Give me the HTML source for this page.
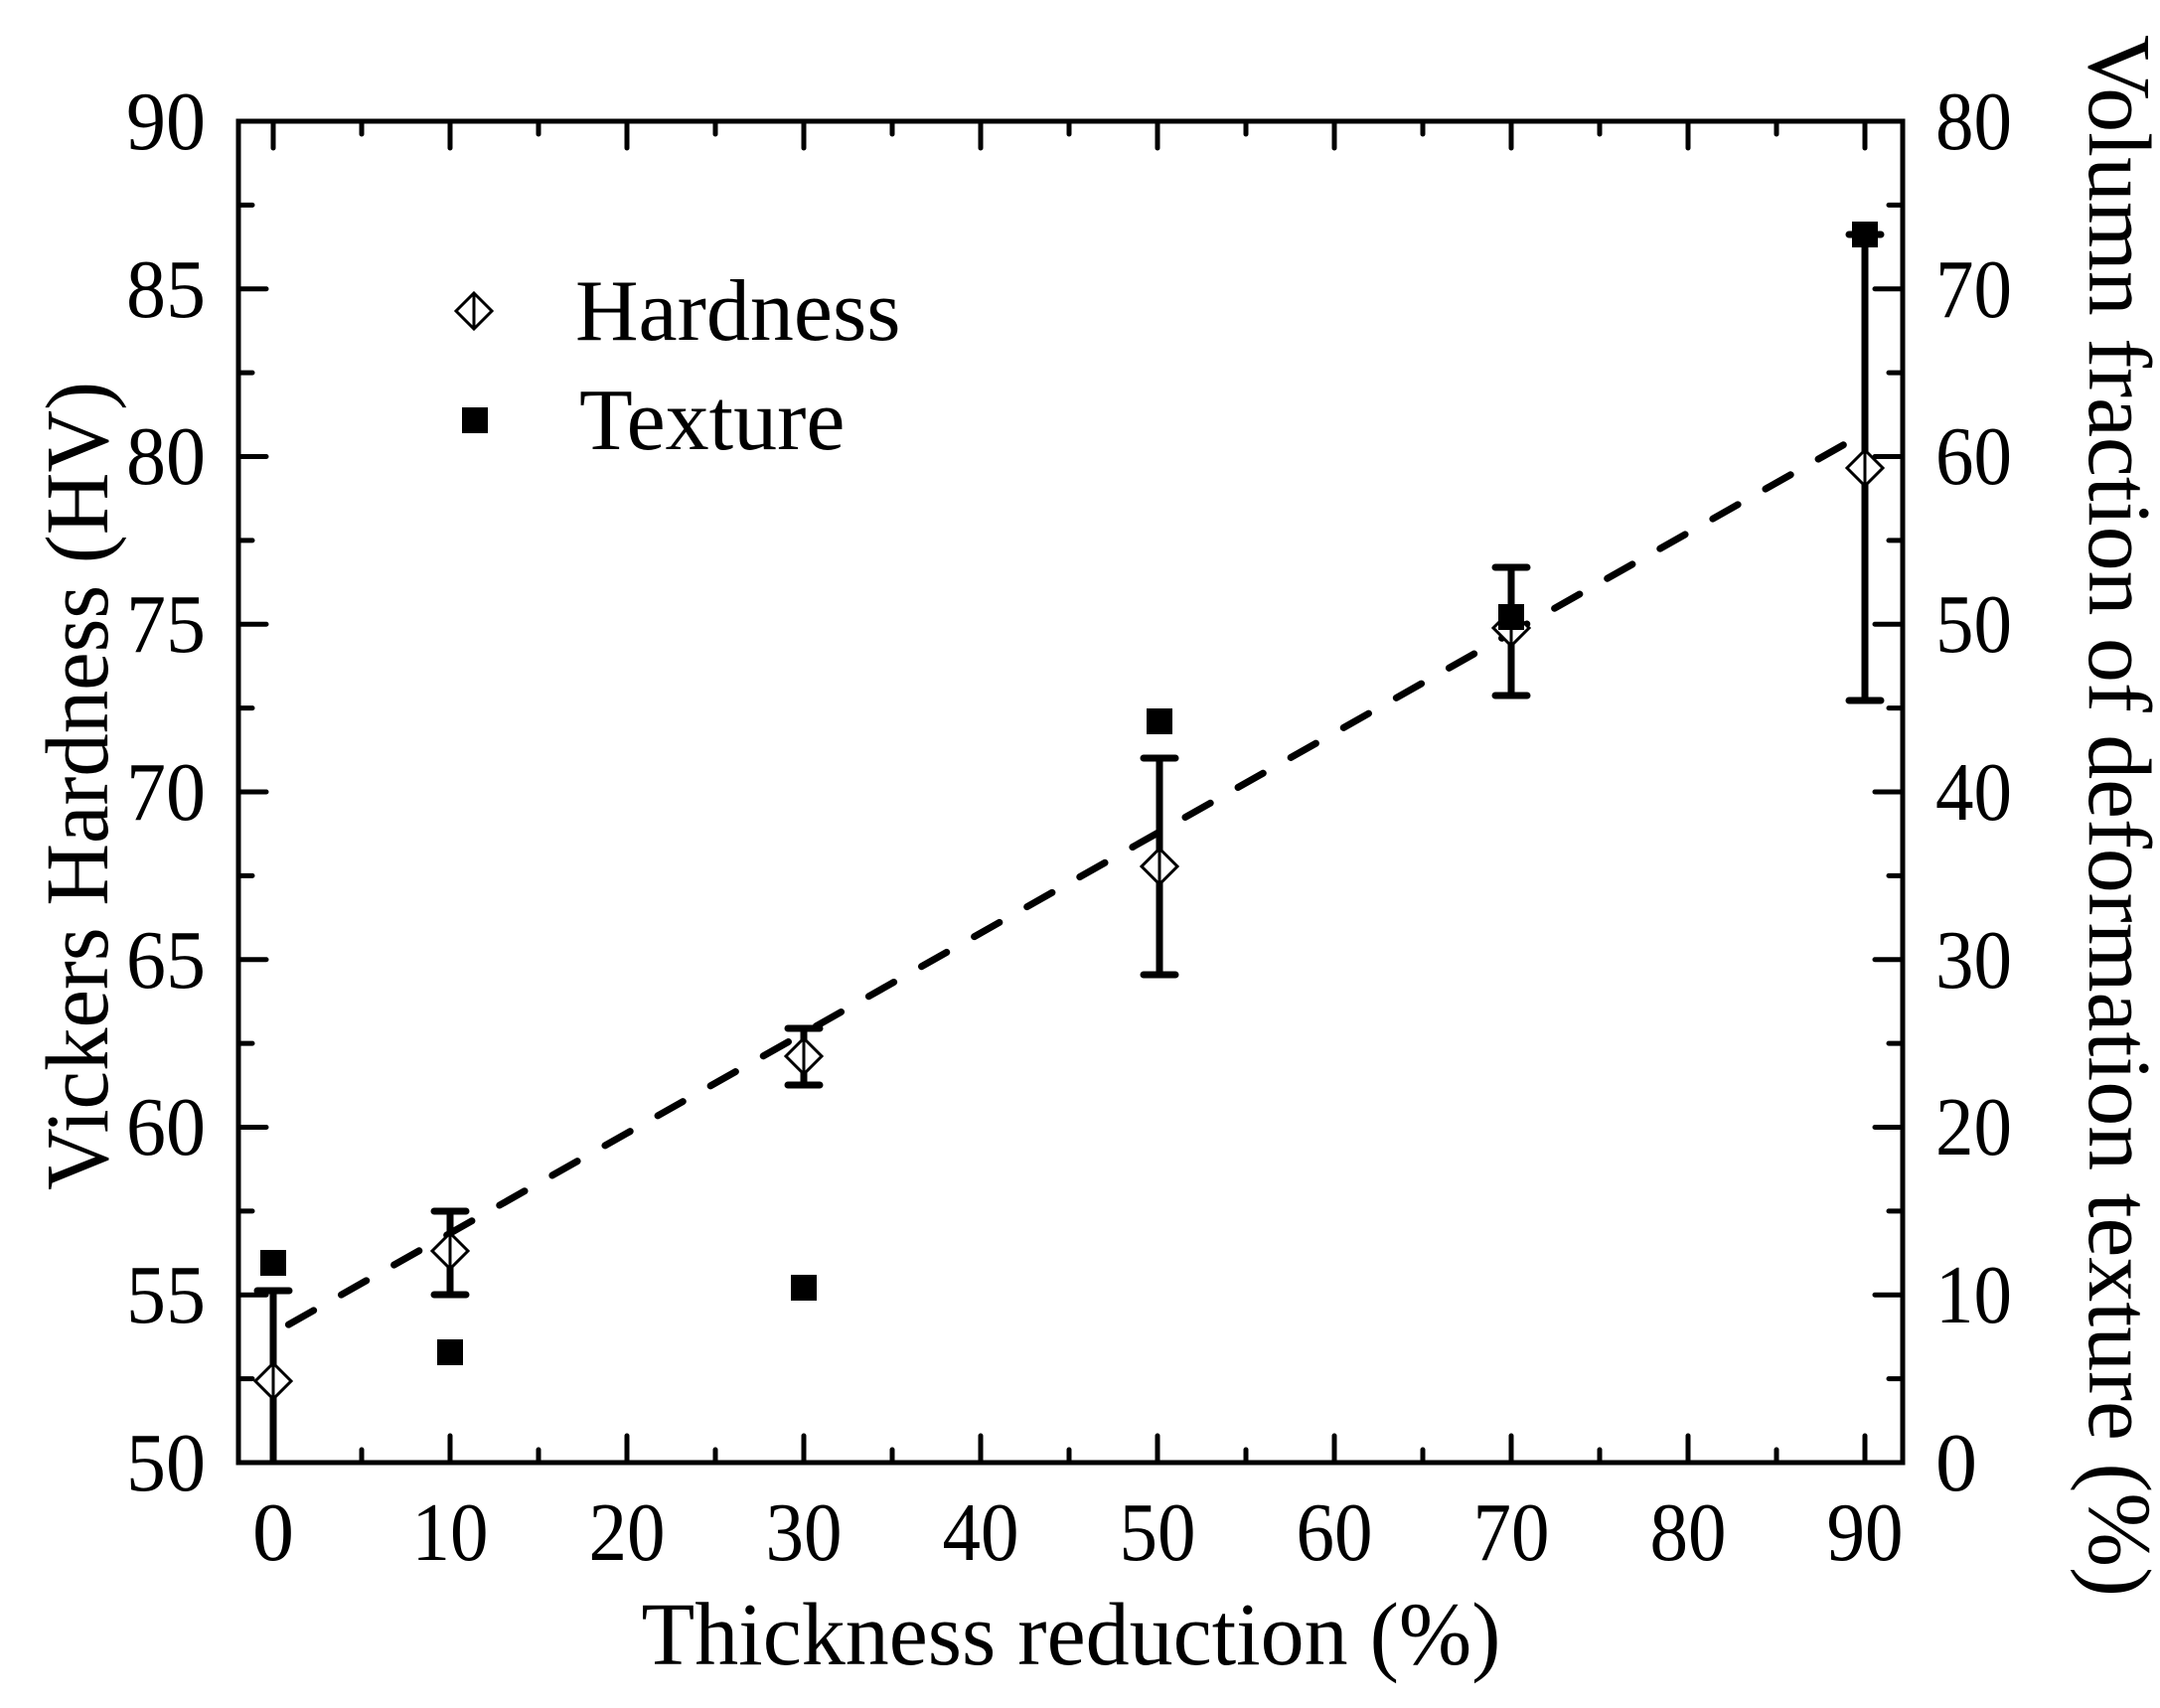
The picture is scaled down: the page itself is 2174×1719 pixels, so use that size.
<!DOCTYPE html>
<html><head><meta charset="utf-8"><style>html,body{margin:0;padding:0;background:#fff}svg{display:block}</style></head>
<body>
<svg width="2174" height="1719" viewBox="0 0 2174 1719" xmlns="http://www.w3.org/2000/svg" font-family="'Liberation Serif', serif" fill="#000">
<g stroke="#000" stroke-width="5" stroke-linecap="round">
<path d="M275 1472v-27M453 1472v-27M631 1472v-27M809 1472v-27M987 1472v-27M1165 1472v-27M1343 1472v-27M1521 1472v-27M1699 1472v-27M1877 1472v-27"/>
<path d="M364 1472v-13M542 1472v-13M720 1472v-13M898 1472v-13M1076 1472v-13M1254 1472v-13M1432 1472v-13M1610 1472v-13M1788 1472v-13"/>
<path d="M275 122v27M453 122v27M631 122v27M809 122v27M987 122v27M1165 122v27M1343 122v27M1521 122v27M1699 122v27M1877 122v27"/>
<path d="M364 122v13M542 122v13M720 122v13M898 122v13M1076 122v13M1254 122v13M1432 122v13M1610 122v13M1788 122v13"/>
<path d="M240 122h28M240 290.75h28M240 459.5h28M240 628.25h28M240 797h28M240 965.75h28M240 1134.5h28M240 1303.25h28"/>
<path d="M240 206.4h14M240 375.1h14M240 543.9h14M240 712.6h14M240 881.4h14M240 1050.1h14M240 1218.9h14M240 1387.6h14"/>
<path d="M1915 122h-28M1915 290.75h-28M1915 459.5h-28M1915 628.25h-28M1915 797h-28M1915 965.75h-28M1915 1134.5h-28M1915 1303.25h-28"/>
<path d="M1915 206.4h-14M1915 375.1h-14M1915 543.9h-14M1915 712.6h-14M1915 881.4h-14M1915 1050.1h-14M1915 1218.9h-14M1915 1387.6h-14"/>
</g>
<rect x="240" y="122" width="1675" height="1350" fill="none" stroke="#000" stroke-width="5"/>

<line x1="273" y1="1343" x2="1862" y2="444" stroke="#000" stroke-width="7" stroke-linecap="round" stroke-dasharray="29 32" stroke-dashoffset="41"/>

<g stroke="#000" stroke-width="7" stroke-linecap="round">
<path d="M275 1299V1470M259 1299h32"/>
<path d="M453 1219V1303M437 1219h32M437 1303h32"/>
<path d="M809 1035V1092M793 1035h32M793 1092h32"/>
<path d="M1167 763V981M1151 763h32M1151 981h32"/>
<path d="M1521 571V700M1505 571h32M1505 700h32"/>
<path d="M1877 236V705M1861 236h32M1861 705h32"/>
</g>

<g fill="#fff" stroke="#000" stroke-width="3">
<path d="M275 1372l18 18l-18 18l-18-18zM275 1372v36"/>
<path d="M453 1241l18 18l-18 18l-18-18zM453 1241v36"/>
<path d="M809 1045l18 18l-18 18l-18-18zM809 1045v36"/>
<path d="M1167 854l18 18l-18 18l-18-18zM1167 854v36"/>
<path d="M1521 614l18 18l-18 18l-18-18zM1521 614v36"/>
<path d="M1877 453l18 18l-18 18l-18-18zM1877 453v36"/>
</g>

<g>
<rect x="262" y="1258" width="26" height="26"/>
<rect x="440" y="1348" width="26" height="26"/>
<rect x="796" y="1283" width="26" height="26"/>
<rect x="1154" y="713" width="26" height="26"/>
<rect x="1508" y="608" width="26" height="26"/>
<rect x="1864" y="223" width="26" height="26"/>
</g>

<path d="M477 295l18 18l-18 18l-18-18zM477 295v36" fill="#fff" stroke="#000" stroke-width="3"/>
<text x="579" y="342" font-size="88">Hardness</text>
<rect x="465" y="410" width="26" height="26"/>
<text x="583" y="452" font-size="88">Texture</text>

<g font-size="84" text-anchor="middle">
<text x="275" y="1570">0</text>
<text x="453" y="1570" textLength="77" lengthAdjust="spacingAndGlyphs">10</text>
<text x="631" y="1570" textLength="77" lengthAdjust="spacingAndGlyphs">20</text>
<text x="809" y="1570" textLength="77" lengthAdjust="spacingAndGlyphs">30</text>
<text x="987" y="1570" textLength="77" lengthAdjust="spacingAndGlyphs">40</text>
<text x="1165" y="1570" textLength="77" lengthAdjust="spacingAndGlyphs">50</text>
<text x="1343" y="1570" textLength="77" lengthAdjust="spacingAndGlyphs">60</text>
<text x="1521" y="1570" textLength="77" lengthAdjust="spacingAndGlyphs">70</text>
<text x="1699" y="1570" textLength="77" lengthAdjust="spacingAndGlyphs">80</text>
<text x="1877" y="1570" textLength="77" lengthAdjust="spacingAndGlyphs">90</text>
</g>
<g font-size="84" text-anchor="end">
<text x="207" y="1500" textLength="80" lengthAdjust="spacingAndGlyphs">50</text>
<text x="207" y="1331" textLength="80" lengthAdjust="spacingAndGlyphs">55</text>
<text x="207" y="1162" textLength="80" lengthAdjust="spacingAndGlyphs">60</text>
<text x="207" y="994" textLength="80" lengthAdjust="spacingAndGlyphs">65</text>
<text x="207" y="825" textLength="80" lengthAdjust="spacingAndGlyphs">70</text>
<text x="207" y="656" textLength="80" lengthAdjust="spacingAndGlyphs">75</text>
<text x="207" y="487" textLength="80" lengthAdjust="spacingAndGlyphs">80</text>
<text x="207" y="319" textLength="80" lengthAdjust="spacingAndGlyphs">85</text>
<text x="207" y="150" textLength="80" lengthAdjust="spacingAndGlyphs">90</text>
</g>
<g font-size="84" text-anchor="start">
<text x="1948" y="1500">0</text>
<text x="1948" y="1331" textLength="77" lengthAdjust="spacingAndGlyphs">10</text>
<text x="1948" y="1162" textLength="77" lengthAdjust="spacingAndGlyphs">20</text>
<text x="1948" y="994" textLength="77" lengthAdjust="spacingAndGlyphs">30</text>
<text x="1948" y="825" textLength="77" lengthAdjust="spacingAndGlyphs">40</text>
<text x="1948" y="656" textLength="77" lengthAdjust="spacingAndGlyphs">50</text>
<text x="1948" y="487" textLength="77" lengthAdjust="spacingAndGlyphs">60</text>
<text x="1948" y="319" textLength="77" lengthAdjust="spacingAndGlyphs">70</text>
<text x="1948" y="150" textLength="77" lengthAdjust="spacingAndGlyphs">80</text>
</g>

<text x="1078" y="1675" font-size="90" text-anchor="middle" textLength="865" lengthAdjust="spacingAndGlyphs">Thickness reduction (%)</text>
<text transform="translate(108,791) rotate(-90)" font-size="90" text-anchor="middle" textLength="814" lengthAdjust="spacingAndGlyphs">Vickers Hardness (HV)</text>
<text transform="translate(2103,821) rotate(90)" font-size="90" text-anchor="middle" textLength="1572" lengthAdjust="spacingAndGlyphs">Volumn fraction of deformation texture (%)</text>
</svg>
</body></html>
